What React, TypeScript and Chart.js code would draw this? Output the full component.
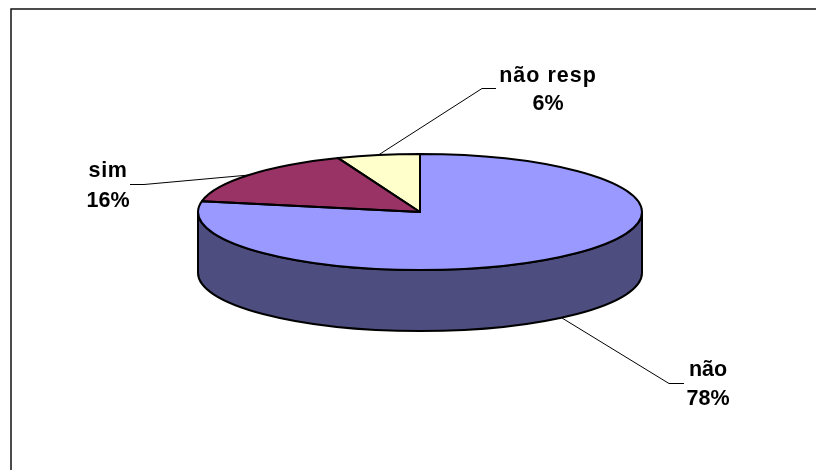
import React, { useEffect, useRef } from "react";
import { Chart, registerables } from "chart.js";

Chart.register(...registerables);

const categories = ["não", "sim", "não resp"];
const shares = [78, 16, 6];
const topColors = ["#9999FF", "#993366", "#FFFFCC"];
const wallColors = ["#4D4D80", "#4D1A33", "#808066"];

const WIDTH = 816;
const HEIGHT = 470;
const CENTER_Y = 212;
const SQUASH = 58 / 222;
const DEPTH = 61;
const PEN = 2;
const FONT = 'bold 21.5px "Liberation Sans", Arial, sans-serif';

// Callout placement per slice: label centre, first and second baselines, elbow and tail of the leader.
const callouts = [
  { cx: 708, y1: 376, y2: 405, elbow: [669, 383], tail: [684, 383], onWall: true, spacing: "0px" },
  { cx: 108, y1: 177, y2: 207, elbow: [144, 184], tail: [130, 184], onWall: false, spacing: "0.6px" },
  { cx: 548, y1: 82, y2: 110, elbow: [482, 88], tail: [496, 88], onWall: false, spacing: "1px" },
];

type Arc = { x: number; y: number; startAngle: number; endAngle: number; outerRadius: number };

const flatten = (ctx: CanvasRenderingContext2D, arc: Arc, dy = 0) => {
  ctx.translate(arc.x, CENTER_Y + dy);
  ctx.scale(1, SQUASH);
  ctx.translate(-arc.x, -arc.y);
};

const extrudedPie = {
  id: "extrudedPie",
  beforeDatasetDraw(chart: any) {
    const { ctx } = chart;
    const arcs: Arc[] = chart.getDatasetMeta(0).data;

    ctx.fillStyle = "#fff";
    ctx.fillRect(0, 0, WIDTH, HEIGHT);

    // Frame around the chart; only its left and top edges fall on the page.
    ctx.strokeStyle = "#111";
    ctx.lineWidth = 1.5;
    ctx.beginPath();
    ctx.moveTo(11, HEIGHT);
    ctx.lineTo(11, 9);
    ctx.lineTo(WIDTH, 9);
    ctx.stroke();

    // Side wall: only the stretch of each slice facing the viewer (canvas angles 0..PI).
    arcs.forEach((arc, i) => {
      const from = Math.max(arc.startAngle, 0);
      const to = Math.min(arc.endAngle, Math.PI);
      if (to <= from) return;
      ctx.save();
      ctx.beginPath();
      ctx.save();
      flatten(ctx, arc);
      ctx.arc(arc.x, arc.y, arc.outerRadius, from, to);
      ctx.restore();
      ctx.save();
      flatten(ctx, arc, DEPTH);
      ctx.arc(arc.x, arc.y, arc.outerRadius, to, from, true);
      ctx.restore();
      ctx.closePath();
      ctx.fillStyle = wallColors[i];
      ctx.fill();
      ctx.strokeStyle = "#000";
      ctx.lineWidth = PEN;
      ctx.lineJoin = "round";
      ctx.stroke();
      ctx.restore();
    });

    ctx.save();
    flatten(ctx, arcs[0]);
  },
  afterDatasetDraw(chart: any) {
    const { ctx } = chart;
    ctx.restore();
    const arcs: Arc[] = chart.getDatasetMeta(0).data;

    // Slice outlines are stroked outside the squash so the pen stays even.
    arcs.forEach((arc) => {
      ctx.save();
      ctx.beginPath();
      ctx.save();
      flatten(ctx, arc);
      ctx.moveTo(arc.x, arc.y);
      ctx.arc(arc.x, arc.y, arc.outerRadius, arc.startAngle, arc.endAngle);
      ctx.closePath();
      ctx.restore();
      ctx.strokeStyle = "#000";
      ctx.lineWidth = PEN;
      ctx.lineJoin = "round";
      ctx.stroke();
      ctx.restore();
    });

    // Leaders start on the rim at each slice's middle angle and end beside the label.
    const total = shares.reduce((a, b) => a + b, 0);
    arcs.forEach((arc, i) => {
      const c = callouts[i];
      const mid = (arc.startAngle + arc.endAngle) / 2;
      const sx = arc.x + arc.outerRadius * Math.cos(mid);
      const sy = CENTER_Y + arc.outerRadius * SQUASH * Math.sin(mid) + (c.onWall ? DEPTH : 0);
      ctx.save();
      ctx.strokeStyle = "#000";
      ctx.lineWidth = 1;
      ctx.beginPath();
      ctx.moveTo(sx, sy);
      ctx.lineTo(c.elbow[0], c.elbow[1] + 0.5);
      ctx.lineTo(c.tail[0], c.tail[1] + 0.5);
      ctx.stroke();

      ctx.fillStyle = "#000";
      ctx.font = FONT;
      ctx.textAlign = "center";
      ctx.textBaseline = "alphabetic";
      (ctx as any).letterSpacing = c.spacing;
      ctx.fillText(categories[i], c.cx, c.y1);
      (ctx as any).letterSpacing = "0px";
      ctx.fillText(`${Math.round((shares[i] / total) * 100)}%`, c.cx, c.y2);
      ctx.restore();
    });
  },
};

export default function App() {
  const ref = useRef<HTMLCanvasElement>(null);

  useEffect(() => {
    document.body.style.margin = "0";
    const chart = new Chart(ref.current!, {
      type: "pie",
      data: {
        labels: categories,
        datasets: [
          {
            data: shares,
            backgroundColor: topColors,
            borderWidth: 0,
            clip: false,
          } as any,
        ],
      },
      options: {
        responsive: false,
        animation: false,
        layout: { padding: { left: 198, right: 174, top: 13, bottom: 13 } },
        plugins: { legend: { display: false }, tooltip: { enabled: false } },
      },
      plugins: [extrudedPie],
    });
    return () => chart.destroy();
  }, []);

  return <canvas ref={ref} width={WIDTH} height={HEIGHT} style={{ display: "block" }} />;
}
